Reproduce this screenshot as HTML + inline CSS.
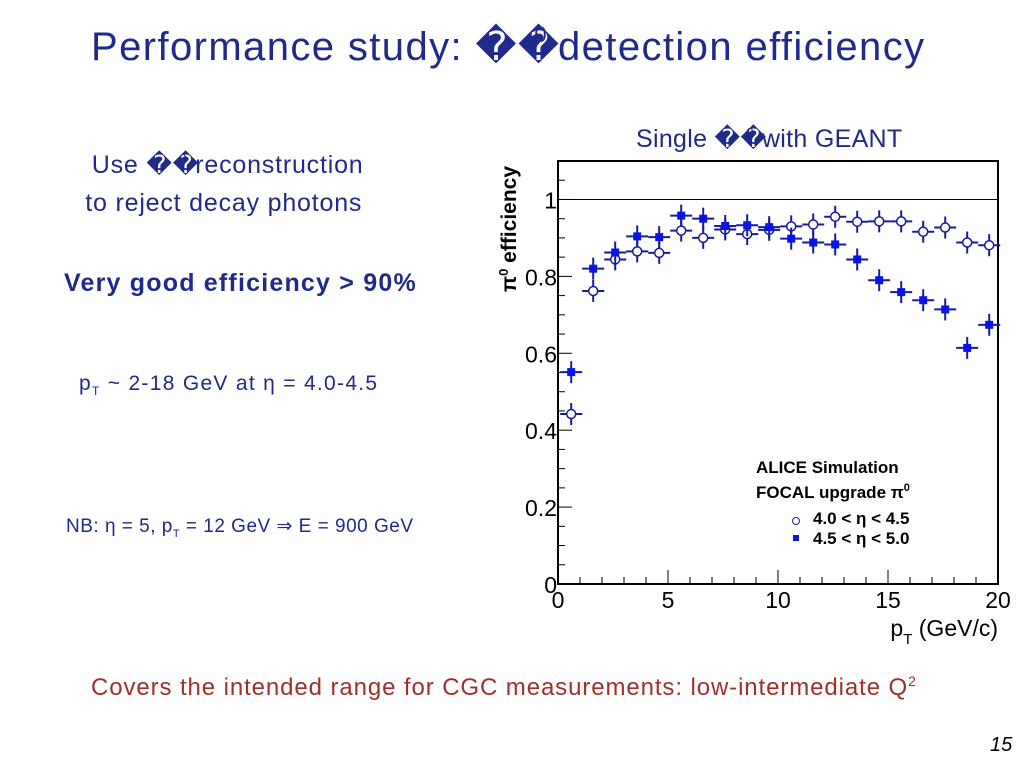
<!DOCTYPE html>
<html><head><meta charset="utf-8"><style>
body{margin:0;width:1024px;height:768px;background:#fff;position:relative;overflow:hidden;font-family:"Liberation Sans",sans-serif}
.t{position:absolute;white-space:nowrap}
</style></head><body>
<div class="t" style="left:91px;top:24px;font-size:40px;letter-spacing:1.4px;color:#1f2a8c">Performance study: ��<sup style="font-size:22px;position:relative;left:-26px;top:-4px">0</sup><span style="margin-left:-16px">detection efficiency</span></div>
<div class="t" style="left:636px;top:124px;font-size:25px;letter-spacing:0.3px;color:#1f2a8c">Single ��<span style="font-size:13px;position:relative;left:-20px;top:-10px">0</span><span style="margin-left:-12px">with GEANT</span></div>
<div class="t" style="left:84px;top:148px;font-size:25px;letter-spacing:0.8px;color:#1f2a8c;text-align:center;line-height:35px">&nbsp;Use ��<span style="font-size:13px;position:relative;left:-20px;top:-10px">0</span><span style="margin-left:-12px">reconstruction</span><br>to reject decay photons</div>
<div class="t" style="left:64px;top:269px;font-size:25px;letter-spacing:1.2px;font-weight:bold;color:#1f2a8c">Very good efficiency &gt; 90%</div>
<div class="t" style="left:79px;top:372px;font-size:21px;letter-spacing:1.3px;color:#1f2a8c">p<sub style="font-size:12px">T</sub> ~ 2-18 GeV at η = 4.0-4.5</div>
<div class="t" style="left:66px;top:515px;font-size:19px;letter-spacing:0.5px;color:#1f2a8c">NB: η = 5, p<sub style="font-size:11px">T</sub> = 12 GeV ⇒ E = 900 GeV</div>
<div class="t" style="left:91px;top:673px;font-size:24px;letter-spacing:0.9px;color:#a0302a">Covers the intended range for CGC measurements: low-intermediate Q<sup style="font-size:14px">2</sup></div>
<div class="t" style="left:990px;top:734px;font-size:20px;font-style:italic">15</div>
<svg id="chart" width="1024" height="768" style="position:absolute;left:0;top:0" xmlns="http://www.w3.org/2000/svg"></svg>
<script>
const ptCenters=[0.6,1.6,2.6,3.6,4.6,5.6,6.6,7.6,8.6,9.6,10.6,11.6,12.6,13.6,14.6,15.6,16.6,17.6,18.6,19.6];
const effOpen=[0.442,0.762,0.844,0.865,0.861,0.919,0.900,0.922,0.910,0.921,0.930,0.935,0.955,0.942,0.943,0.943,0.916,0.927,0.888,0.881];
const effFilled=[0.551,0.820,0.862,0.904,0.902,0.958,0.950,0.931,0.933,0.928,0.898,0.888,0.883,0.844,0.790,0.759,0.738,0.714,0.614,0.674];
const yTickLabels=["0","0.2","0.4","0.6","0.8","1"];
const xTickLabels=["0","5","10","15","20"];
const NS="http://www.w3.org/2000/svg";
const svg=document.getElementById('chart');
const L=558,R=998,T=161,B=584,XMAX=20,YMAX=1.1;
const X=v=>L+v/XMAX*(R-L);
const Y=v=>B-v/YMAX*(B-T);
function el(tag,attrs,parent){const e=document.createElementNS(NS,tag);for(const k in attrs)e.setAttribute(k,attrs[k]);(parent||svg).appendChild(e);return e;}
let f=el('rect',{x:L,y:T,width:R-L,height:B-T,fill:'none',stroke:'#000','stroke-width':2});


let one=el('line',{x1:L,x2:R,y1:Y(1),y2:Y(1),stroke:'#000','stroke-width':1});


for(let i=0;i<=22;i++){const v=i*0.05;const maj=i%4===0;el('line',{x1:L,x2:L+(maj?14:7),y1:Y(v),y2:Y(v),stroke:'#000'});}
yTickLabels.forEach((s,i)=>{const t=el('text',{x:L-1,y:Y(parseFloat(s))+9,'text-anchor':'end','font-size':23,'font-family':'Liberation Sans'});t.textContent=s;

});
for(let i=0;i<=20;i++){const maj=i%5===0;el('line',{x1:X(i),x2:X(i),y1:B,y2:B-(maj?14:7),stroke:'#000'});}
xTickLabels.forEach(s=>{const t=el('text',{x:X(parseFloat(s)),y:B+24,'text-anchor':'middle','font-size':23,'font-family':'Liberation Sans'});t.textContent=s;

});
let xt=el('text',{x:998,y:636,'text-anchor':'end','font-size':23,'font-family':'Liberation Sans'});xt.innerHTML='p<tspan dy="8" font-size="15">T</tspan><tspan dy="-8"> (GeV/c)</tspan>';


let yt=el('text',{transform:'translate(516,292) rotate(-90)','text-anchor':'start','font-size':21,'font-weight':'bold','font-family':'Liberation Sans'});yt.innerHTML='π<tspan dy="-8" font-size="13">0</tspan><tspan dy="8"> efficiency</tspan>';


function series(vals,filled,name){vals.forEach((v,i)=>{const cx=X(ptCenters[i]),cy=Y(v);const g=el('g',{});


el('line',{x1:X(ptCenters[i]-0.5),x2:X(ptCenters[i]+0.5),y1:cy,y2:cy,stroke:'#1a1a9a','stroke-width':2},g);
el('line',{x1:cx,x2:cx,y1:cy-11,y2:cy+11,stroke:'#1a1a9a','stroke-width':2},g);
if(filled)el('rect',{x:cx-4,y:cy-4,width:8,height:8,fill:'#0a14e6'},g);else el('circle',{cx:cx,cy:cy,r:4.5,fill:'#fff',stroke:'#1a1a9a','stroke-width':1.5},g);});}
series(effOpen,false,'point-eta-4.0-4.5');
series(effFilled,true,'point-eta-4.5-5.0');
const lg=el('g',{});


let a=el('text',{x:756,y:473,'font-size':17,'font-weight':'bold','font-family':'Liberation Sans'},lg);a.textContent='ALICE Simulation';
let b=el('text',{x:756,y:498,'font-size':17,'font-weight':'bold','font-family':'Liberation Sans'},lg);b.innerHTML='FOCAL upgrade π<tspan dy="-7" font-size="11">0</tspan>';
el('circle',{cx:796,cy:521,r:3.5,fill:'#fff',stroke:'#1a1a9a'},lg);
let c=el('text',{x:813,y:524,'font-size':17,'font-weight':'bold','font-family':'Liberation Sans'},lg);c.textContent='4.0 < η < 4.5';
el('rect',{x:793,y:535,width:6,height:6,fill:'#0a14e6'},lg);
let d=el('text',{x:813,y:544,'font-size':17,'font-weight':'bold','font-family':'Liberation Sans'},lg);d.textContent='4.5 < η < 5.0';
</script>
</body></html>
